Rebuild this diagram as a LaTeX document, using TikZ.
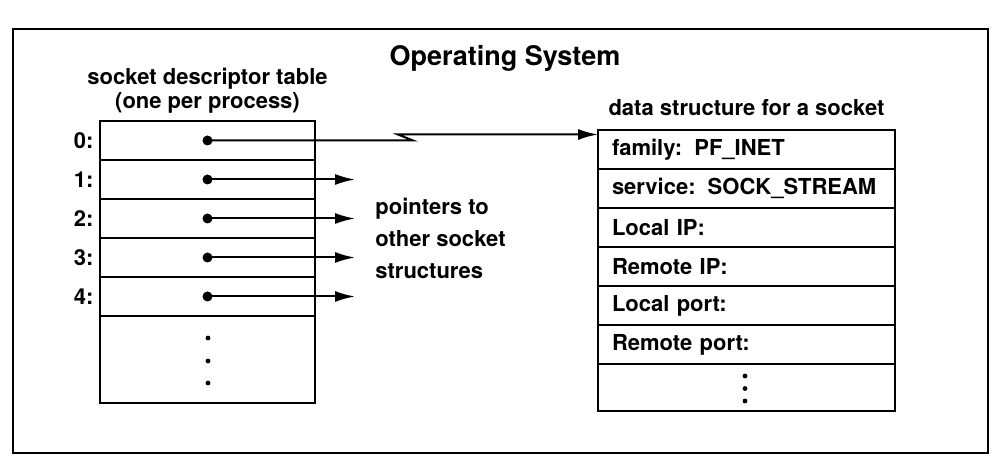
\documentclass[tikz,border=0pt]{standalone}
\usepackage{fontspec}
\setmainfont{TeX Gyre Heros}
\usetikzlibrary{arrows.meta,positioning}
\begin{document}
\begin{tikzpicture}[x=0.5pt,y=-0.5pt,>={Latex[length=10pt,width=5.5pt]},font=\bfseries\fontsize{11}{12}\selectfont]
        \tikzstyle{slot}=[rectangle,draw=black,line width=1.2pt,minimum width=107.5pt,minimum height=19.5pt,inner sep=0pt]
        \tikzstyle{field}=[rectangle,draw=black,line width=1.2pt,minimum width=148.5pt,minimum height=19.5pt,inner xsep=7pt,inner ysep=0pt,text width=134.5pt,align=left]
        \tikzstyle{ptr}=[circle,fill=black,inner sep=0pt,minimum size=5pt]
        \tikzstyle{edge}=[draw,line width=1pt]
       \useasboundingbox (0,0) rectangle (994,458);
       \node [draw,line width=1.2pt,minimum width=487.5pt,minimum height=212pt] (os) at (500.5,241) {};
       \node [font=\bfseries\fontsize{13.5}{15}\selectfont] (title) at (505,58) {Operating System};
       % descriptor table
       \begin{scope}
         \node [slot] (d0) at (207.5,140.5) {};
         \node [slot] (d1) at (207.5,179.5) {};
         \node [slot] (d2) at (207.5,218.5) {};
         \node [slot] (d3) at (207.5,257.5) {};
         \node [slot] (d4) at (207.5,296.5) {};
         \node [slot,minimum height=43.5pt] (drest) at (207.5,359.5) {};
         \node [above=3pt of d0,inner sep=0pt,align=center] (tabtitle) {socket descriptor table\\(one per process)};
         \node [left=2.5pt of d0,inner sep=0pt] (n0) {0:};
         \node [left=2.5pt of d1,inner sep=0pt] (n1) {1:};
         \node [left=2.5pt of d2,inner sep=0pt] (n2) {2:};
         \node [left=2.5pt of d3,inner sep=0pt] (n3) {3:};
         \node [left=2.5pt of d4,inner sep=0pt] (n4) {4:};
         \node [ptr] (p0) at (d0) {};
         \node [ptr] (p1) at (d1) {};
         \node [ptr] (p2) at (d2) {};
         \node [ptr] (p3) at (d3) {};
         \node [ptr] (p4) at (d4) {};
         \fill (208,338) circle (1.2pt);
         \fill (208,361) circle (1.2pt);
         \fill (208,383) circle (1.2pt);
       \end{scope}
       % socket data structure
       \begin{scope}
         \node [field] (f0) at (746.5,149.5) {family:\hspace{0.55em}PF\_INET};
         \node [field] (f1) at (746.5,188.5) {service:\hspace{0.55em}SOCK\_STREAM};
         \node [field] (f2) at (746.5,227.5) {Local IP:};
         \node [field] (f3) at (746.5,266.5) {Remote IP:};
         \node [field] (f4) at (746.5,305.5) {Local port:};
         \node [field] (f5) at (746.5,344.5) {Remote port:};
         \node [field,minimum height=23.5pt] (frest) at (746.5,387.5) {};
         \node [above=6.5pt of f0,inner sep=0pt] (dstitle) {data structure for a socket};
         \fill (745,376) circle (1.2pt);
         \fill (745,388.5) circle (1.2pt);
         \fill (745,401) circle (1.2pt);
       \end{scope}
       \node [anchor=west,inner sep=0pt,align=left,font=\bfseries\fontsize{11}{16}\selectfont] (others) at (375,238) {pointers to\\other socket\\structures};
       % pointers
       \coordinate (b0) at (413,140.5);
       \coordinate (b1) at (398,134.5);
       \coordinate (e0) at (598,134.5);
       \coordinate (e1) at (355,179.5);
       \coordinate (e2) at (355,218.5);
       \coordinate (e3) at (355,257.5);
       \coordinate (e4) at (355,296.5);
       \path[edge,->] (p0.center) -- (b0) -- (b1) -- (e0);
       \path[edge,->] (p1.center) -- (e1);
       \path[edge,->] (p2.center) -- (e2);
       \path[edge,->] (p3.center) -- (e3);
       \path[edge,->] (p4.center) -- (e4);
\end{tikzpicture}
\end{document}
